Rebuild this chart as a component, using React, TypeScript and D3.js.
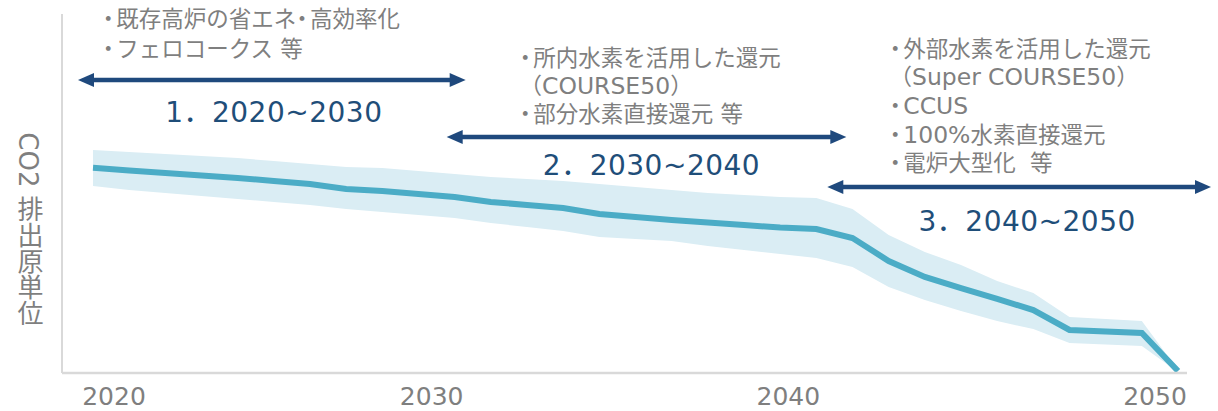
import React from 'react';
import * as d3 from 'd3';

// ---------- data ----------
const years = [2020, 2021, 2022, 2023, 2024, 2025, 2026, 2027, 2028, 2029, 2030, 2031, 2032, 2033, 2034, 2035, 2036, 2037, 2038, 2039, 2040, 2041, 2042, 2043, 2044, 2045, 2046, 2047, 2048, 2049, 2050];
const centerValues = [100, 98.7, 97.5, 96.3, 95.1, 93.6, 92.1, 89.7, 88.7, 87.3, 85.8, 83.4, 81.9, 80.4, 77.5, 76.0, 74.6, 73.4, 72.1, 70.9, 70.2, 65.8, 54.6, 46.8, 41.4, 36.1, 30.7, 21.0, 20.2, 19.5, 1.0];
const upperValues = [108.7, 107.7, 106.8, 105.8, 104.8, 103.3, 101.9, 100.4, 99.9, 98.5, 97.0, 95.5, 94.6, 93.6, 92.1, 90.7, 89.2, 87.7, 86.8, 85.8, 85.3, 79.9, 67.3, 59.0, 52.6, 44.8, 39.0, 27.3, 26.3, 25.3, 1.5];
const lowerValues = [91.2, 89.2, 87.7, 86.3, 84.8, 83.4, 81.9, 79.9, 78.5, 77.0, 75.6, 73.1, 71.2, 69.2, 66.3, 65.3, 64.3, 61.9, 60.0, 58.0, 56.1, 51.7, 41.9, 35.6, 30.2, 25.3, 21.4, 14.6, 13.9, 13.2, 0.5];

const tickYears = [2020, 2030, 2040, 2050];
const tickLabels = ['2020', '2030', '2040', '2050'];

const phaseStart = [2020, 2030, 2040];
const phaseEnd = [2030, 2040, 2050];
const phaseLabels = ['1．2020~2030', '2．2030~2040', '3．2040~2050'];
const phaseNotes = [
  ['・既存高炉の省エネ・高効率化', '・フェロコークス 等'],
  ['・所内水素を活用した還元', '（COURSE50）', '・部分水素直接還元 等'],
  ['・外部水素を活用した還元', '（Super COURSE50）', '・CCUS', '・100%水素直接還元', '・電炉大型化  等'],
];
const yAxisTitle = 'CO2 排出原単位';

// ---------- layout / style ----------
const W = 1218;
const H = 411;
const AXIS_X = 62;
const AXIS_TOP = 14;
const AXIS_BOTTOM = 373;
const AXIS_RIGHT = 1187;
const tickDx = [21, -23, -28, -23];
const arrowLayout = [
  { y: 80, padL: 15, padR: 11, labelY: 122, labelDx: 2 },
  { y: 137, padL: 8, padR: 30, labelY: 175, labelDx: 5 },
  { y: 187, padL: -11, padR: 33, labelY: 231, labelDx: 8 },
];
const notesLayout = [
  { x: 102.5, y: 27, lh: 30 },
  { x: 519.5, y: 65.5, lh: 28 },
  { x: 889.5, y: 56.5, lh: 28.7 },
];

const GRAY = '#7f7f7f';
const NAVY = '#1f4e79';
const ARROW = '#1f497d';
const LINE = '#4bacc6';
const BAND = '#daedf4';
const AXIS = '#d9d9d9';
const FONT = "'DejaVu Sans', 'Noto Sans CJK JP', sans-serif";

function NoteLine({ text }: { text: string }) {
  const parts = text.split(/(・|[\x21-\x7E]+)/).filter((p) => p.length > 0);
  let afterDot = false;
  return (
    <>
      {parts.map((p, i) => {
        const dx = afterDot ? 2.5 : 0;
        afterDot = false;
        if (p === '・') {
          afterDot = true;
          return (
            <tspan key={i} dx={dx || undefined} style={{ fontFeatureSettings: '"halt"' }}>{p}</tspan>
          );
        }
        if (/^[\x21-\x7E]+$/.test(p)) {
          return (
            <tspan key={i} dx={dx || undefined} fontSize={23.5}>{p}</tspan>
          );
        }
        return (
          <tspan key={i} dx={dx || undefined}>{p}</tspan>
        );
      })}
    </>
  );
}

export default function App() {
  const x = d3.scaleLinear().domain([2020, 2050]).range([93, 1178]);
  const y = d3.scaleLinear().domain([0, 175]).range([AXIS_BOTTOM, AXIS_TOP]);

  const idx = years.map((_, i) => i);
  const area = d3
    .area<number>()
    .x((i) => x(years[i]))
    .y0((i) => y(lowerValues[i]))
    .y1((i) => y(upperValues[i]));
  const line = d3
    .line<number>()
    .x((i) => x(years[i]))
    .y((i) => y(centerValues[i]));

  const HEAD_L = 16;
  const HEAD_W = 7;

  return (
    <svg
      width={W}
      height={H}
      style={{ position: 'absolute', left: 0, top: 0, display: 'block', background: '#fff' }}
    >
      {/* band and line */}
      <path d={area(idx) || ''} fill={BAND} />
      <path d={line(idx) || ''} fill="none" stroke={LINE} strokeWidth={6} strokeLinejoin="miter" />

      {/* axes */}
      <line x1={AXIS_X} y1={AXIS_TOP} x2={AXIS_X} y2={AXIS_BOTTOM} stroke={AXIS} strokeWidth={2} />
      <line x1={AXIS_X} y1={AXIS_BOTTOM} x2={AXIS_RIGHT} y2={AXIS_BOTTOM} stroke={AXIS} strokeWidth={2.5} />

      {/* tick labels */}
      {tickYears.map((t, i) => (
        <text
          key={t}
          x={x(t) + tickDx[i]}
          y={405}
          textAnchor="middle"
          fontFamily={FONT}
          fontSize={25}
          fill={GRAY}
        >
          {tickLabels[i]}
        </text>
      ))}

      {/* y-axis title */}
      <text
        x={28}
        y={229}
        textAnchor="middle"
        fontFamily={FONT}
        fontSize={26}
        fill={GRAY}
        style={{ writingMode: 'vertical-rl', textOrientation: 'mixed' } as any}
      >
        {yAxisTitle}
      </text>

      {/* phase arrows and labels */}
      {phaseStart.map((s, i) => {
        const L = arrowLayout[i];
        const x1 = x(s) - L.padL;
        const x2 = x(phaseEnd[i]) + L.padR;
        const ay = L.y;
        return (
          <g key={i}>
            <line x1={x1 + HEAD_L - 2} y1={ay} x2={x2 - HEAD_L + 2} y2={ay} stroke={ARROW} strokeWidth={4.5} />
            <polygon
              points={`${x1},${ay} ${x1 + HEAD_L},${ay - HEAD_W} ${x1 + HEAD_L},${ay + HEAD_W}`}
              fill={ARROW}
            />
            <polygon
              points={`${x2},${ay} ${x2 - HEAD_L},${ay - HEAD_W} ${x2 - HEAD_L},${ay + HEAD_W}`}
              fill={ARROW}
            />
            <text
              x={(x1 + x2) / 2 + L.labelDx}
              y={L.labelY}
              textAnchor="middle"
              fontFamily={FONT}
              fontSize={28}
              letterSpacing={0.5}
              fill={NAVY}
            >
              {phaseLabels[i]}
            </text>
          </g>
        );
      })}

      {/* notes */}
      {phaseNotes.map((lines, i) => {
        const N = notesLayout[i];
        return (
          <g key={i}>
            {lines.map((t, j) => (
              <text
                key={j}
                x={N.x}
                y={N.y + j * N.lh}
                fontFamily={FONT}
                fontSize={22.5}
                fill={GRAY}
                style={{ whiteSpace: 'pre' }}
              >
                <NoteLine text={t} />
              </text>
            ))}
          </g>
        );
      })}
    </svg>
  );
}
